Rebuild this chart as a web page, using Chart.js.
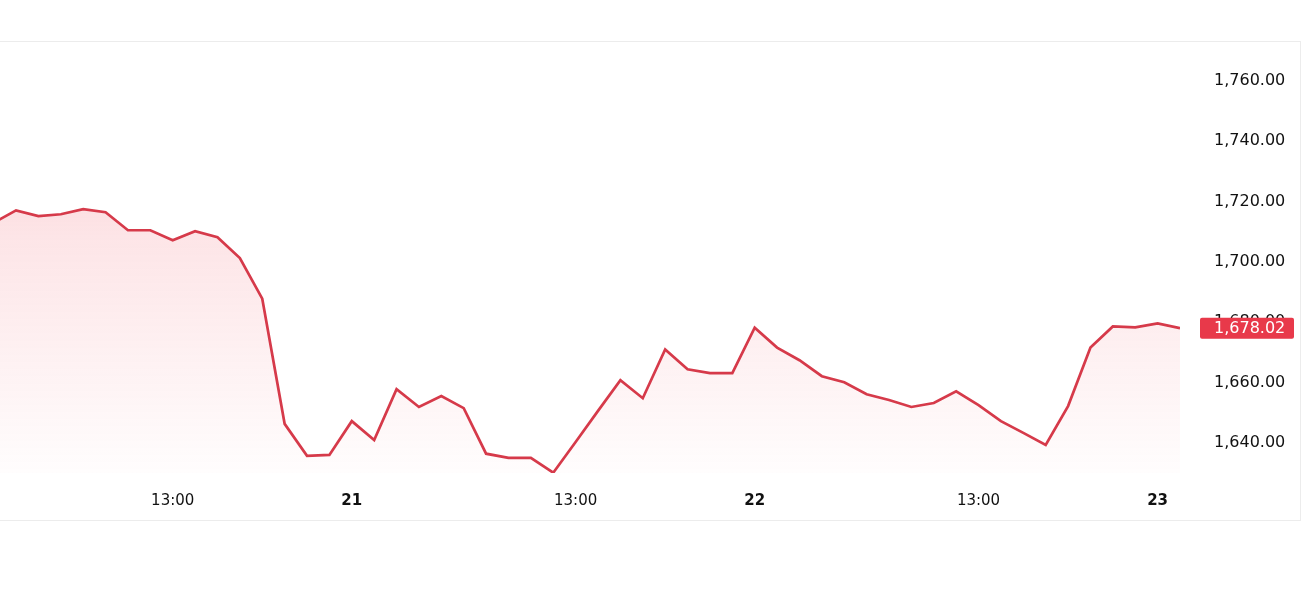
<!DOCTYPE html>
<html>
<head>
<meta charset="utf-8">
<script src="https://cdn.jsdelivr.net/npm/chart.js@4.4.1/dist/chart.umd.min.js"></script>
<style>
  html, body { margin: 0; padding: 0; background: #fff; overflow: hidden; }
  #frame { position: absolute; left: -1px; top: 41px; width: 1302px; height: 480px; box-sizing: border-box; border: 1px solid #ececec; }
  #wrap { position: absolute; left: 0; top: 0; width: 1316px; height: 611px; }
</style>
</head>
<body>
<div id="frame"></div>
<div id="wrap"><canvas id="c" width="1316" height="611"></canvas></div>
<script>
// Price series (evenly spaced samples; index 0 is just off the left edge)
const prices = [
  1713.0, 1717.1, 1715.2, 1715.8, 1717.5, 1716.5, 1710.5, 1710.5, 1707.2, 1710.2,
  1708.2, 1701.3, 1687.8, 1646.3, 1635.7, 1636.0, 1647.2, 1640.9, 1657.8, 1651.9,
  1655.5, 1651.5, 1636.4, 1635.0, 1635.0, 1630.1, 1640.3, 1650.6, 1660.8, 1654.8,
  1671.0, 1664.4, 1663.1, 1663.1, 1678.2, 1671.6, 1667.4, 1662.1, 1660.1, 1656.1,
  1654.2, 1651.9, 1653.2, 1657.1, 1652.5, 1647.2, 1643.3, 1639.3, 1652.2, 1671.6,
  1678.6, 1678.3, 1679.6, 1678.02
];
// X tick positions (sample index) and labels
const xTickIdx    = [8, 16, 26, 34, 44, 52];
const xTickLabels = ['13:00', '21', '13:00', '22', '13:00', '23'];
const dayLabels   = ['21', '22', '23'];
// Y ticks
const yTicks = [1640, 1660, 1680, 1700, 1720, 1740, 1760];
const lastPrice = prices[prices.length - 1];

const LINE = '#d63a4a';
const TAG = '#e8394a';
const FONT = 'DejaVu Sans';

const fmt = v => Number(v).toLocaleString('en-US', { minimumFractionDigits: 2, maximumFractionDigits: 2 });

const tagPlugin = {
  id: 'tag',
  afterDraw(chart) {
    const y = chart.scales.y;
    const ctx = chart.ctx;
    const py = y.getPixelForValue(lastPrice);
    const x0 = y.left + 20, x1 = y.right - 6;
    ctx.save();
    ctx.fillStyle = TAG;
    const h = 21;
    ctx.beginPath();
    if (ctx.roundRect) ctx.roundRect(x0, py - h / 2, x1 - x0, h, 2); else ctx.rect(x0, py - h / 2, x1 - x0, h);
    ctx.fill();
    ctx.fillStyle = '#ffffff';
    ctx.font = '16px "' + FONT + '"';
    ctx.textAlign = 'left';
    ctx.textBaseline = 'middle';
    ctx.fillText(fmt(lastPrice), y.left + 34, py + 0.5);
    ctx.restore();
  }
};

new Chart(document.getElementById('c'), {
  type: 'line',
  data: {
    datasets: [{
      data: prices.map((p, i) => ({ x: i, y: p })),
      borderColor: LINE,
      borderWidth: 2.7,
      pointRadius: 0,
      tension: 0,
      fill: 'start',
      backgroundColor: (ctx) => {
        const ca = ctx.chart.chartArea;
        if (!ca) return 'rgba(232,60,75,0.1)';
        const g = ctx.chart.ctx.createLinearGradient(0, ca.top, 0, ca.bottom);
        g.addColorStop(0, 'rgba(240,70,85,0.32)');
        g.addColorStop(0.45, 'rgba(240,70,85,0.14)');
        g.addColorStop(1, 'rgba(240,70,85,0.01)');
        return g;
      }
    }]
  },
  options: {
    responsive: false,
    animation: false,
    layout: { padding: { left: 0, right: 16, top: 41, bottom: 91 } },
    plugins: { legend: { display: false }, tooltip: { enabled: false } },
    scales: {
      x: {
        type: 'linear',
        min: 0.284,
        max: 53.0,
        grid: { display: false, drawTicks: false },
        border: { display: false },
        afterBuildTicks: (s) => { s.ticks = xTickIdx.map(v => ({ value: v })); },
        afterFit: (s) => { s.height = 47; },
        ticks: {
          autoSkip: false,
          maxRotation: 0,
          padding: 19,
          color: '#111111',
          font: (ctx) => ({ family: FONT, size: 15, weight: (ctx.tick && dayLabels.includes(xTickLabels[xTickIdx.indexOf(ctx.tick.value)])) ? 'bold' : 'normal' }),
          callback: (v) => xTickLabels[xTickIdx.indexOf(v)]
        }
      },
      y: {
        position: 'right',
        min: 1630,
        max: 1772.4,
        grid: { display: false, drawTicks: false },
        border: { display: false },
        afterBuildTicks: (s) => { s.ticks = yTicks.map(v => ({ value: v })); },
        afterFit: (s) => { s.width = 120; },
        ticks: {
          padding: 34,
          color: '#111111',
          font: { family: FONT, size: 16 },
          callback: (v) => fmt(v)
        }
      }
    }
  },
  plugins: [tagPlugin]
});
</script>
</body>
</html>
